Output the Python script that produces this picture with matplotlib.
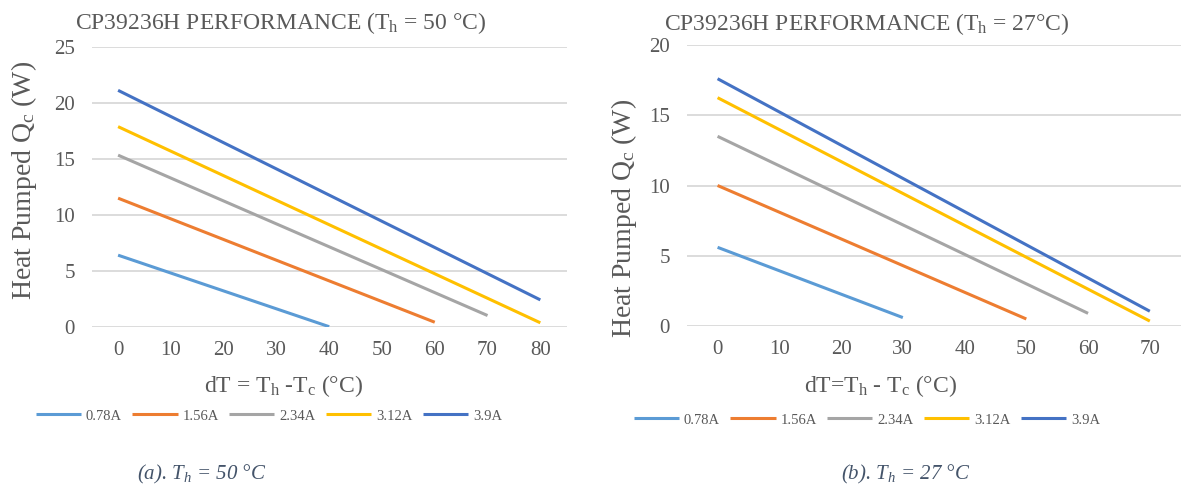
import matplotlib
matplotlib.use("Agg")
import matplotlib.pyplot as plt

plt.rcParams['font.family'] = ['Liberation Serif', 'DejaVu Serif']
plt.rcParams['mathtext.fontset'] = 'custom'
plt.rcParams['mathtext.rm'] = 'Liberation Serif'
plt.rcParams['mathtext.it'] = 'Liberation Serif:italic'

# ---------------- data ----------------
currents = ["0.78A", "1.56A", "2.34A", "3.12A", "3.9A"]
colors = ["#5B9BD5", "#ED7D31", "#A5A5A5", "#FFC000", "#4472C4"]

# Th = 50 C
a_ticks = [0, 10, 20, 30, 40, 50, 60, 70, 80]
a_dT_end = [40, 60, 70, 80, 80]
a_q_start = [6.4, 11.5, 15.35, 17.9, 21.15]
a_q_end = [0.0, 0.4, 1.0, 0.35, 2.4]

# Th = 27 C
b_ticks = [0, 10, 20, 30, 40, 50, 60, 70]
b_dT_end = [30, 50, 60, 70, 70]
b_q_start = [5.6, 10.0, 13.5, 16.25, 17.6]
b_q_end = [0.6, 0.5, 0.9, 0.35, 1.05]

TXT = "#595959"
W, H = 1182, 486
fig = plt.figure(figsize=(W / 100, H / 100), dpi=100)


def px(x0, y0, x1, y1):
    return [x0 / W, 1 - y1 / H, (x1 - x0) / W, (y1 - y0) / H]


def setup(ax, ticks, ymax):
    ax.set_xlim(ticks[0] - 5, ticks[-1] + 5)
    ax.set_ylim(0, ymax)
    ax.set_xticks(ticks)
    ax.set_yticks(range(0, ymax + 1, 5))
    for s in ax.spines.values():
        s.set_visible(False)
    ax.grid(axis='y', color='#D9D9D9', lw=1.3)
    ax.set_axisbelow(True)
    ax.tick_params(length=0, labelsize=15, labelcolor=TXT, pad=10)
    ax.tick_params(axis='y', pad=12)


axa = fig.add_axes(px(91.7, 47.3, 566.7, 326.7))
setup(axa, a_ticks, 25)
for i in range(len(currents)):
    axa.plot([0, a_dT_end[i]], [a_q_start[i], a_q_end[i]], color=colors[i], lw=2.2,
             label=currents[i], solid_capstyle='butt')

axb = fig.add_axes(px(686.7, 45, 1180.7, 326))
setup(axb, b_ticks, 20)
for i in range(len(currents)):
    axb.plot([0, b_dT_end[i]], [b_q_start[i], b_q_end[i]], color=colors[i], lw=2.2,
             label=currents[i], solid_capstyle='butt')

# titles
fig.text(281 / W, 1 - 29 / H, r"CP39236H PERFORMANCE (T$_\mathrm{h}$ = 50 °C)",
         ha='center', va='baseline', fontsize=17, color=TXT)
fig.text(867 / W, 1 - 30 / H, r"CP39236H PERFORMANCE (T$_\mathrm{h}$ = 27°C)",
         ha='center', va='baseline', fontsize=17, color=TXT)

# y labels
fig.text(24 / W, 1 - 180 / H, r"Heat Pumped Q$_\mathrm{c}$ (W)", rotation=90,
         ha='center', va='center', fontsize=20, color=TXT)
fig.text(624 / W, 1 - 218 / H, r"Heat Pumped Q$_\mathrm{c}$ (W)", rotation=90,
         ha='center', va='center', fontsize=20, color=TXT)

# x labels
fig.text(283 / W, 1 - 392 / H, r"dT = T$_\mathrm{h}$ -T$_\mathrm{c}$ (°C)",
         ha='center', va='baseline', fontsize=17, color=TXT)
fig.text(881 / W, 1 - 392 / H, r"dT=T$_\mathrm{h}$ - T$_\mathrm{c}$ (°C)",
         ha='center', va='baseline', fontsize=17, color=TXT)

# legends
leg_kw = dict(loc='center', ncol=5, frameon=False, fontsize=10.5, handlelength=3.1,
              handletextpad=0.35, columnspacing=0.7, labelcolor=TXT)
h, l = axa.get_legend_handles_labels()
fig.legend(h, l, bbox_to_anchor=(269 / W, 1 - 416 / H), bbox_transform=fig.transFigure, **leg_kw)
h, l = axb.get_legend_handles_labels()
fig.legend(h, l, bbox_to_anchor=(867 / W, 1 - 420 / H), bbox_transform=fig.transFigure, **leg_kw)

# captions
CAP = "#44546A"
fig.text(202 / W, 1 - 479 / H, r"(a). $T_h$ = 50 °C", ha='center', va='baseline',
         fontsize=15, style='italic', color=CAP)
fig.text(906 / W, 1 - 479 / H, r"(b). $T_h$ = 27 °C", ha='center', va='baseline',
         fontsize=15, style='italic', color=CAP)

fig.savefig("out.png", dpi=100)
